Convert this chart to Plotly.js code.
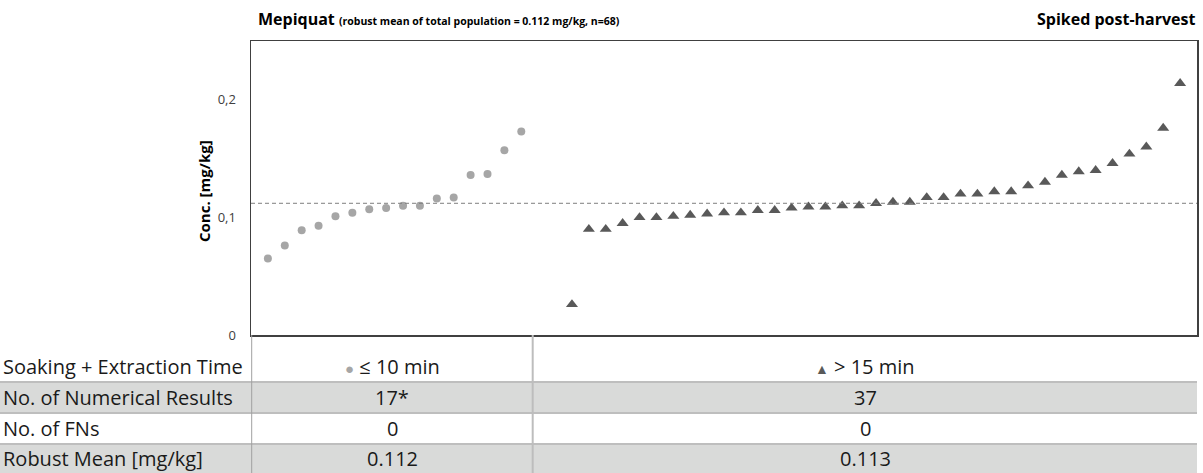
<!DOCTYPE html>
<html>
<head>
<meta charset="utf-8">
<script src="https://cdn.plot.ly/plotly-3.0.1.min.js"></script>
<style>
  html, body { margin: 0; padding: 0; background: #ffffff; }
  #chart { width: 1203px; height: 473px; }
</style>
</head>
<body>
<div id="chart"></div>
<script>
// ---- Data ----
const shortTimeValues = [0.065, 0.076, 0.089, 0.093, 0.101, 0.104, 0.107, 0.108, 0.110, 0.110, 0.116, 0.117, 0.136, 0.137, 0.157, 0.173];
const longTimeValues = [0.026, 0.090, 0.090, 0.095, 0.100, 0.100, 0.101, 0.102, 0.103, 0.104, 0.104, 0.106, 0.106, 0.108, 0.109, 0.109, 0.110, 0.110, 0.112, 0.113, 0.113, 0.117, 0.117, 0.120, 0.120, 0.122, 0.122, 0.127, 0.130, 0.136, 0.139, 0.140, 0.146, 0.154, 0.160, 0.176, 0.214];
const shortStart = 1;
const longStart = 19;
const totalRobustMean = 0.112;
const yTickVals = [0, 0.1, 0.2];
const yTickText = ['0', '0,1', '0,2'];
const rowLabels = ['Soaking + Extraction Time', 'No. of Numerical Results', 'No. of FNs', 'Robust Mean [mg/kg]'];
const groupLabels = ['≤ 10 min', '> 15 min'];
const numResults = ['17*', '37'];
const numFNs = ['0', '0'];
const robustMeans = ['0.112', '0.113'];
const analyte = 'Mepiquat';
const subtitle = '(robust mean of total population = 0.112 mg/kg, n=68)';
const rightTitle = 'Spiked post-harvest';
const yTitle = 'Conc. [mg/kg]';

// ---- Geometry helpers (pixel -> paper) ----
const W = 1203, H = 473;
const M = { l: 251, r: 6, t: 41, b: 138 };
const PW = W - M.l - M.r, PH = H - M.t - M.b;
const px = x => (x - M.l) / PW;
const py = y => (H - M.b - y) / PH;

const circleColor = '#a6a6a6';
const triColor = '#595959';
const textFont = '"Open Sans", sans-serif';
const titleFont = '"Open Sans", sans-serif';

const traces = [
  {
    type: 'scatter', mode: 'markers',
    x: shortTimeValues.map((_, i) => i + shortStart),
    y: shortTimeValues,
    marker: { symbol: 'circle', size: 8, color: circleColor },
    hoverinfo: 'y', showlegend: false
  },
  {
    type: 'scatter', mode: 'markers',
    x: longTimeValues.map((_, i) => i + longStart),
    y: longTimeValues,
    marker: { symbol: 'triangle-up', size: 10.5, color: triColor },
    hoverinfo: 'y', showlegend: false
  }
];

const shapes = [
  // mean line
  { type: 'line', xref: 'paper', yref: 'y', x0: 0, x1: 1, y0: totalRobustMean, y1: totalRobustMean,
    line: { color: '#7f7f7f', width: 1, dash: '4px,3px' } },
  // grey table bands
  { type: 'rect', xref: 'paper', yref: 'paper', x0: px(0), x1: px(1197), y0: py(382), y1: py(413),
    fillcolor: '#d9dad9', line: { width: 0 }, layer: 'below' },
  { type: 'rect', xref: 'paper', yref: 'paper', x0: px(0), x1: px(1197), y0: py(444), y1: py(473),
    fillcolor: '#d9dad9', line: { width: 0 }, layer: 'below' }
];
[382, 413, 444].forEach(yv => shapes.push({
  type: 'line', xref: 'paper', yref: 'paper', x0: px(0), x1: px(1197), y0: py(yv), y1: py(yv),
  line: { color: '#bebebe', width: 2 }
}));
shapes.push({ type: 'line', xref: 'paper', yref: 'paper', x0: px(251.7), x1: px(251.7), y0: py(335), y1: py(473),
  line: { color: '#a0a0a0', width: 1 } });
shapes.push({ type: 'line', xref: 'paper', yref: 'paper', x0: px(532.7), x1: px(532.7), y0: py(335), y1: py(473),
  line: { color: '#bdbdbd', width: 2 } });

const rowY = [366.5, 397.5, 428.5, 458.5];
const colX = [392, 865];
const annotations = [];
rowLabels.forEach((t, i) => annotations.push({
  xref: 'paper', yref: 'paper', x: px(1), y: py(rowY[i]), xanchor: 'left', yanchor: 'middle',
  text: t, showarrow: false, font: { family: textFont, size: 20, color: '#1a1a1a' }
}));
const groupCells = [
  '<span style="color:' + circleColor + ';font-size:15px">●</span> ' + groupLabels[0],
  '<span style="color:' + triColor + ';font-size:14px">▲</span> ' + groupLabels[1]
];
[groupCells, numResults, numFNs, robustMeans].forEach((row, r) => row.forEach((t, c) => annotations.push({
  xref: 'paper', yref: 'paper', x: px(colX[c]), y: py(rowY[r]), xanchor: 'center', yanchor: 'middle',
  text: t, showarrow: false, font: { family: textFont, size: 20, color: '#1a1a1a' }
})));
// titles
annotations.push({
  xref: 'paper', yref: 'paper', x: px(256), y: py(19), xanchor: 'left', yanchor: 'middle',
  text: '<b>' + analyte + '</b> <b><span style="font-size:10.5px">' + subtitle + '</span></b>',
  showarrow: false, font: { family: titleFont, size: 16, color: '#000000' }
});
annotations.push({
  xref: 'paper', yref: 'paper', x: px(1198), y: py(19), xanchor: 'right', yanchor: 'middle',
  text: '<b>' + rightTitle + '</b>', showarrow: false, font: { family: titleFont, size: 16, color: '#000000' }
});
// y-axis title
annotations.push({
  xref: 'paper', yref: 'paper', x: px(204), y: py(191), xanchor: 'center', yanchor: 'middle',
  textangle: -90, text: '<b>' + yTitle + '</b>', showarrow: false,
  font: { family: titleFont, size: 15, color: '#000000' }
});

const layout = {
  width: W, height: H,
  margin: M,
  paper_bgcolor: '#ffffff', plot_bgcolor: '#ffffff',
  showlegend: false,
  xaxis: {
    range: [0, 56], showgrid: false, zeroline: false, showticklabels: false, ticks: '',
    showline: true, mirror: true, linecolor: '#404040', linewidth: 1.5, fixedrange: true
  },
  yaxis: {
    range: [0, 0.25], showgrid: false, zeroline: false,
    tickvals: yTickVals, ticktext: yTickText, ticks: '',
    tickfont: { family: titleFont, size: 13, color: '#404040' },
    ticklabelstandoff: 11,
    showline: true, mirror: true, linecolor: '#404040', linewidth: 1.5, fixedrange: true
  },
  shapes: shapes,
  annotations: annotations
};

Plotly.newPlot('chart', traces, layout, { displayModeBar: false, staticPlot: true });
</script>
</body>
</html>
